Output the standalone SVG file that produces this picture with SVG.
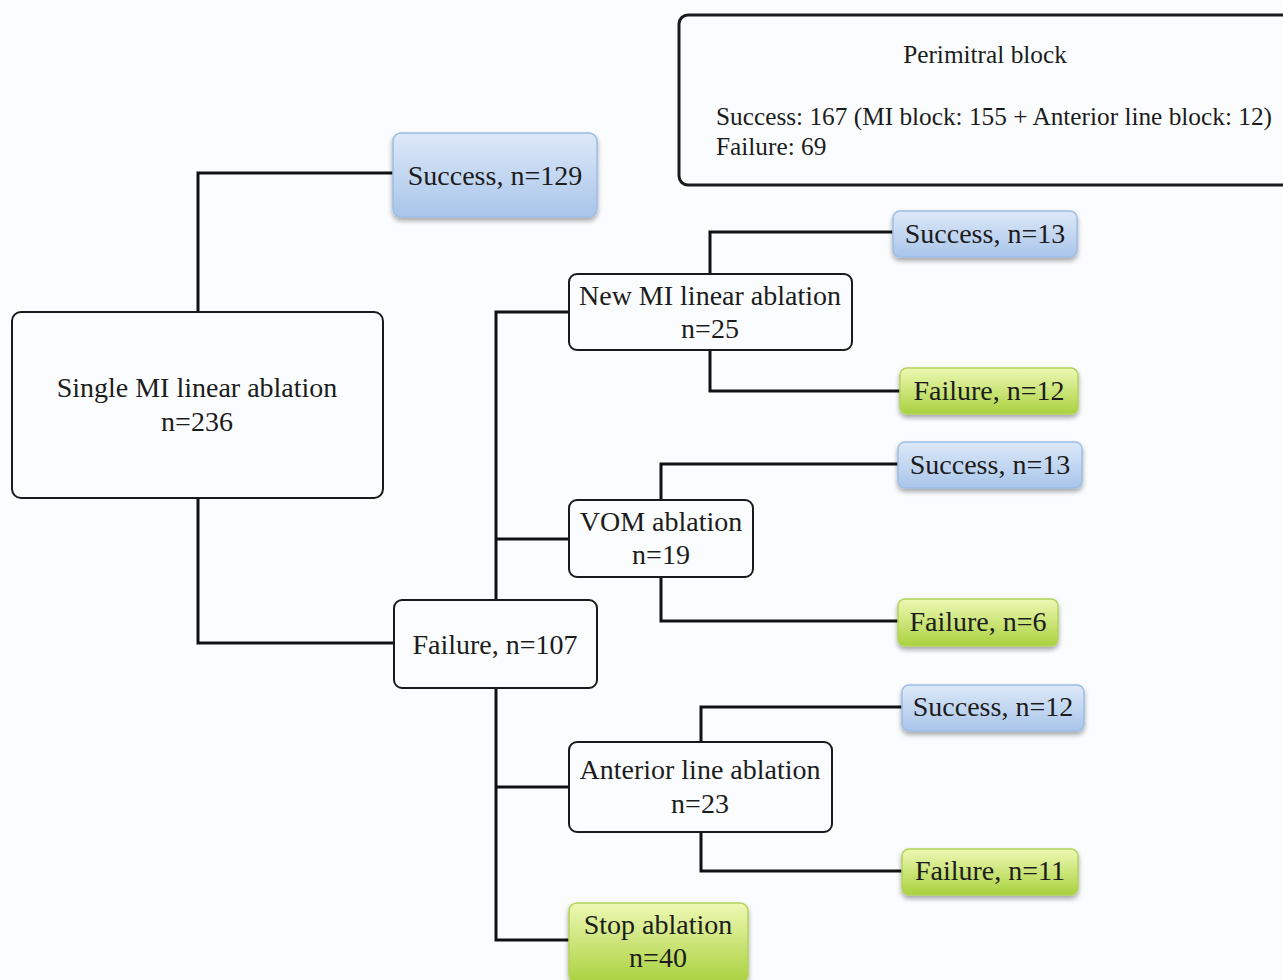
<svg xmlns="http://www.w3.org/2000/svg" width="1283" height="980" viewBox="0 0 1283 980">
<defs>
<linearGradient id="gBlue" x1="0" y1="0" x2="0" y2="1">
<stop offset="0" stop-color="#dde9f8"/>
<stop offset="1" stop-color="#a9c5ea"/>
</linearGradient>
<linearGradient id="gGreen" x1="0" y1="0" x2="0" y2="1">
<stop offset="0" stop-color="#eef8b4"/>
<stop offset="1" stop-color="#a9d13e"/>
</linearGradient>
<filter id="sh" x="-10%" y="-20%" width="120%" height="150%">
<feGaussianBlur in="SourceAlpha" stdDeviation="2.5"/>
<feOffset dx="0" dy="3" result="b"/>
<feComponentTransfer><feFuncA type="linear" slope="0.35"/></feComponentTransfer>
<feMerge><feMergeNode/><feMergeNode in="SourceGraphic"/></feMerge>
</filter>
</defs>
<style>
text{font-family:"Liberation Serif","Times New Roman",serif;fill:#1c1c1c}
.big{font-size:28px}
.sm{font-size:25.3px}
.c{text-anchor:middle}
.plain{fill:#fbfcfe;stroke:#1a1a1a;stroke-width:2}
.blue{fill:url(#gBlue);stroke:#9cbde6;stroke-width:1.5;filter:url(#sh)}
.green{fill:url(#gGreen);stroke:#b2d45a;stroke-width:1.5;filter:url(#sh)}
.con{fill:none;stroke:#111;stroke-width:3}
</style>
<rect width="1283" height="980" fill="#fbfcfe"/>
<g id="connectors" class="con">
<path d="M393,173 H198 V312"/>
<path d="M198,498 V643 H394"/>
<path d="M496,600 V312 H569"/>
<path d="M496,539 H569"/>
<path d="M496,688 V940 H569"/>
<path d="M496,787 H569"/>
<path d="M893,232 H710 V274"/>
<path d="M710,350 V391 H900"/>
<path d="M898,464 H661 V500"/>
<path d="M661,577 V621 H898"/>
<path d="M902,707 H701 V742"/>
<path d="M701,832 V871 H902"/>
</g>
<g id="perimitral">
<rect x="679" y="15" width="620" height="170" rx="9" fill="#fbfcfe" stroke="#1a1a1a" stroke-width="3"/>
<text class="sm c" x="985" y="63">Perimitral block</text>
<text class="sm" x="716" y="125">Success: 167 (MI block: 155 + Anterior line block: 12)</text>
<text class="sm" x="716" y="155">Failure: 69</text>
</g>
<g id="single">
<rect class="plain" x="12" y="312" width="371" height="186" rx="9"/>
<text class="big c" x="197" y="397">Single MI linear ablation</text>
<text class="big c" x="197" y="431">n=236</text>
</g>
<g id="success129">
<rect class="blue" x="393" y="133" width="204" height="84" rx="8"/>
<text class="big c" x="495" y="185">Success, n=129</text>
</g>
<g id="failure107">
<rect class="plain" x="394" y="600" width="203" height="88" rx="8"/>
<text class="big c" x="495" y="654">Failure, n=107</text>
</g>
<g id="newmi">
<rect class="plain" x="569" y="274" width="283" height="76" rx="8"/>
<text class="big c" x="710" y="305">New MI linear ablation</text>
<text class="big c" x="710" y="338">n=25</text>
</g>
<g id="vom">
<rect class="plain" x="569" y="500" width="184" height="77" rx="8"/>
<text class="big c" x="661" y="531">VOM ablation</text>
<text class="big c" x="661" y="564">n=19</text>
</g>
<g id="anterior">
<rect class="plain" x="569" y="742" width="263" height="90" rx="8"/>
<text class="big c" x="700" y="779">Anterior line ablation</text>
<text class="big c" x="700" y="813">n=23</text>
</g>
<g id="stop">
<rect class="green" x="569" y="903" width="179" height="80" rx="8"/>
<text class="big c" x="658" y="934">Stop ablation</text>
<text class="big c" x="658" y="967">n=40</text>
</g>
<g id="s13a">
<rect class="blue" x="893" y="211" width="184" height="46" rx="7"/>
<text class="big c" x="985" y="243">Success, n=13</text>
</g>
<g id="f12">
<rect class="green" x="900" y="368" width="178" height="46" rx="7"/>
<text class="big c" x="989" y="400">Failure, n=12</text>
</g>
<g id="s13b">
<rect class="blue" x="898" y="442" width="184" height="46" rx="7"/>
<text class="big c" x="990" y="474">Success, n=13</text>
</g>
<g id="f6">
<rect class="green" x="898" y="599" width="160" height="47" rx="7"/>
<text class="big c" x="978" y="631">Failure, n=6</text>
</g>
<g id="s12">
<rect class="blue" x="902" y="685" width="182" height="46" rx="7"/>
<text class="big c" x="993" y="716">Success, n=12</text>
</g>
<g id="f11">
<rect class="green" x="902" y="849" width="176" height="46" rx="7"/>
<text class="big c" x="990" y="880">Failure, n=11</text>
</g>
</svg>
